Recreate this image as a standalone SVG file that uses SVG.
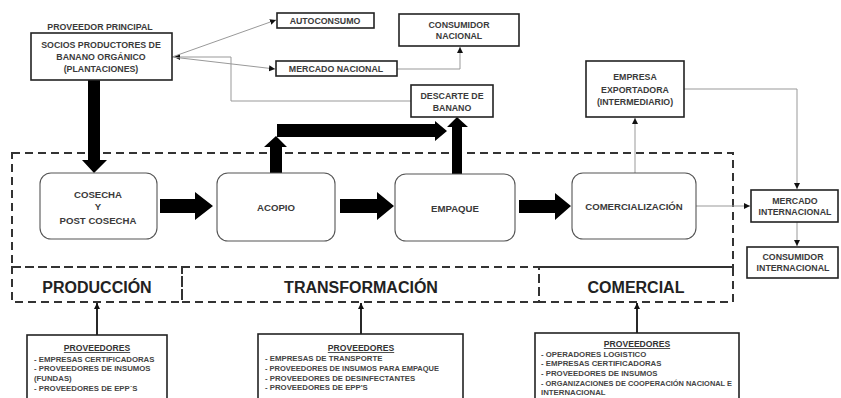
<svg xmlns="http://www.w3.org/2000/svg" width="841" height="398" viewBox="0 0 841 398">
<style>
.box{fill:#fff;stroke:#222;stroke-width:1.6}
.pbox{fill:#fff;stroke:#555;stroke-width:1.1}
.t{font-family:"Liberation Sans",Arial,sans-serif;font-weight:bold;font-size:8.8px;fill:#3a3a3a;text-anchor:middle}
.tp{font-size:9.6px}
.sec{font-family:"Liberation Sans",Arial,sans-serif;font-weight:bold;font-size:16px;fill:#222;text-anchor:middle}
.lst{font-family:"Liberation Sans",Arial,sans-serif;font-weight:bold;font-size:7.8px;fill:#444}
.ttl{font-family:"Liberation Sans",Arial,sans-serif;font-weight:bold;font-size:8.6px;fill:#333;text-anchor:middle;text-decoration:underline}
.thin{fill:none;stroke:#999;stroke-width:1}
.dash{fill:none;stroke:#333;stroke-width:2;stroke-dasharray:8 5}
.blk{fill:#000}
.up{fill:none;stroke:#111;stroke-width:1.8}
</style>
<defs>
<marker id="ah" markerUnits="userSpaceOnUse" markerWidth="7" markerHeight="7" refX="6" refY="3.5" orient="auto">
<path d="M0,0.5 L6,3.5 L0,6.5 Z" fill="#111"/>
</marker>
</defs>
<rect width="841" height="398" fill="#fff"/>

<g id="frame">
<rect class="dash" x="12" y="153" width="721" height="114"/>
<rect class="dash" x="12" y="267" width="170" height="35"/>
<rect class="dash" x="182" y="267" width="357" height="35"/>
<rect class="dash" x="539" y="267" width="194" height="35"/>
</g>

<g id="connectors">
<polyline class="thin" points="231,101 231,57 174,57" marker-end="url(#ah)"/>
<line class="thin" x1="231" y1="101" x2="411" y2="101"/>
<line class="thin" x1="172" y1="57" x2="276" y2="20" marker-end="url(#ah)"/>
<line class="thin" x1="172" y1="57" x2="275" y2="69" marker-end="url(#ah)"/>
<polyline class="thin" points="397,69 460,69 460,47" marker-end="url(#ah)"/>
<line class="thin" x1="635" y1="173" x2="635" y2="118" marker-end="url(#ah)"/>
<polyline class="thin" points="684,89 797,89 797,189" marker-end="url(#ah)"/>
<line class="thin" x1="696" y1="206" x2="750" y2="206" marker-end="url(#ah)"/>
<line class="thin" x1="797" y1="222" x2="797" y2="246" marker-end="url(#ah)"/>
<line class="up" x1="97" y1="335" x2="97" y2="303" marker-end="url(#ah)"/>
<line class="up" x1="361" y1="334" x2="361" y2="303" marker-end="url(#ah)"/>
<line class="up" x1="637" y1="333" x2="637" y2="303" marker-end="url(#ah)"/>
<polygon class="blk" points="88,80 100,80 100,160 107,160 94,173 82,160 88,160"/>
<polygon class="blk" points="160,199 195,199 195,192 213,206 195,220 195,213 160,213"/>
<polygon class="blk" points="340,199 377,199 377,192 394,206 377,220 377,213 340,213"/>
<polygon class="blk" points="519,200 555,200 555,193 571,206 555,220 555,213 519,213"/>
<polygon class="blk" points="270,174 282,174 282,147 287,147 276,136 264,147 270,147"/>
<polygon class="blk" points="277,124 435,124 435,121 447,131 435,141 435,137 277,137"/>
<polygon class="blk" points="452,174 462,174 462,127 468,127 457,117 447,127 452,127"/>
</g>

<g id="n-proveedor-principal">
<text class="t" x="100" y="30">PROVEEDOR PRINCIPAL</text>
<rect class="box" x="31" y="33" width="141" height="47"/>
<text class="t" x="101" y="48">SOCIOS PRODUCTORES DE</text>
<text class="t" x="101" y="60">BANANO ORGÁNICO</text>
<text class="t" x="101" y="72">(PLANTACIONES)</text>
</g>

<g id="n-autoconsumo">
<rect class="box" x="277" y="13" width="97" height="15"/>
<text class="t" x="325" y="24">AUTOCONSUMO</text>
</g>

<g id="n-mercado-nacional">
<rect class="box" x="276" y="61" width="121" height="15"/>
<text class="t" x="336" y="72">MERCADO NACIONAL</text>
</g>

<g id="n-consumidor-nacional">
<rect class="box" x="399" y="14" width="120" height="32"/>
<text class="t" x="459" y="28">CONSUMIDOR</text>
<text class="t" x="459" y="39">NACIONAL</text>
</g>

<g id="n-descarte">
<rect class="box" x="411" y="85" width="82" height="32"/>
<text class="t" x="452" y="99">DESCARTE DE</text>
<text class="t" x="452" y="111">BANANO</text>
</g>

<g id="n-empresa-exportadora">
<rect class="box" x="586" y="61" width="98" height="56"/>
<text class="t" x="635" y="80">EMPRESA</text>
<text class="t" x="635" y="93">EXPORTADORA</text>
<text class="t" x="635" y="105">(INTERMEDIARIO)</text>
</g>

<g id="n-cosecha">
<rect class="pbox" x="40" y="173" width="117" height="66" rx="11"/>
<text class="t tp" x="98" y="198">COSECHA</text>
<text class="t tp" x="98" y="210">Y</text>
<text class="t tp" x="98" y="224">POST COSECHA</text>
</g>

<g id="n-acopio">
<rect class="pbox" x="217" y="173" width="118" height="68" rx="11"/>
<text class="t tp" x="276" y="211">ACOPIO</text>
</g>

<g id="n-empaque">
<rect class="pbox" x="395" y="174" width="120" height="67" rx="11"/>
<text class="t tp" x="455" y="212">EMPAQUE</text>
</g>

<g id="n-comercializacion">
<rect class="pbox" x="572" y="173" width="124" height="66" rx="11"/>
<text class="t tp" x="634" y="210">COMERCIALIZACIÓN</text>
</g>

<g id="n-mercado-internacional">
<rect class="box" x="751" y="190" width="87" height="32"/>
<text class="t" x="795" y="204">MERCADO</text>
<text class="t" x="795" y="215">INTERNACIONAL</text>
</g>

<g id="n-consumidor-internacional">
<rect class="box" x="747" y="247" width="91" height="31"/>
<text class="t" x="793" y="260">CONSUMIDOR</text>
<text class="t" x="793" y="271">INTERNACIONAL</text>
</g>

<g id="n-produccion">
<text class="sec" x="97" y="293">PRODUCCIÓN</text>
</g>
<g id="n-transformacion">
<text class="sec" x="361" y="293">TRANSFORMACIÓN</text>
</g>
<g id="n-comercial">
<text class="sec" x="636" y="293">COMERCIAL</text>
</g>

<g id="n-proveedores-1">
<rect class="box" x="27" y="335" width="140" height="70"/>
<text class="ttl" x="97" y="351">PROVEEDORES</text>
<text class="lst" x="34" y="362">- EMPRESAS CERTIFICADORAS</text>
<text class="lst" x="34" y="371">- PROVEEDORES DE INSUMOS</text>
<text class="lst" x="34" y="381">(FUNDAS)</text>
<text class="lst" x="34" y="391">- PROVEEDORES DE EPP´S</text>
</g>

<g id="n-proveedores-2">
<rect class="box" x="258" y="334" width="205" height="70"/>
<text class="ttl" x="361" y="351">PROVEEDORES</text>
<text class="lst" x="265" y="361">- EMPRESAS DE TRANSPORTE</text>
<text class="lst" x="265" y="371" textLength="174" lengthAdjust="spacingAndGlyphs">- PROVEEDORES DE INSUMOS PARA EMPAQUE</text>
<text class="lst" x="265" y="381">- PROVEEDORES DE DESINFECTANTES</text>
<text class="lst" x="265" y="390">- PROVEEDORES DE EPP'S</text>
</g>

<g id="n-proveedores-3">
<rect class="box" x="535" y="333" width="204" height="70"/>
<text class="ttl" x="637" y="347">PROVEEDORES</text>
<text class="lst" x="541" y="357">- OPERADORES LOGISTICO</text>
<text class="lst" x="541" y="366">- EMPRESAS CERTIFICADORAS</text>
<text class="lst" x="541" y="376">- PROVEEDORES DE INSUMOS</text>
<text class="lst" x="541" y="386" textLength="191" lengthAdjust="spacingAndGlyphs">- ORGANIZACIONES DE COOPERACIÓN NACIONAL E</text>
<text class="lst" x="541" y="395">INTERNACIONAL</text>
</g>
</svg>
